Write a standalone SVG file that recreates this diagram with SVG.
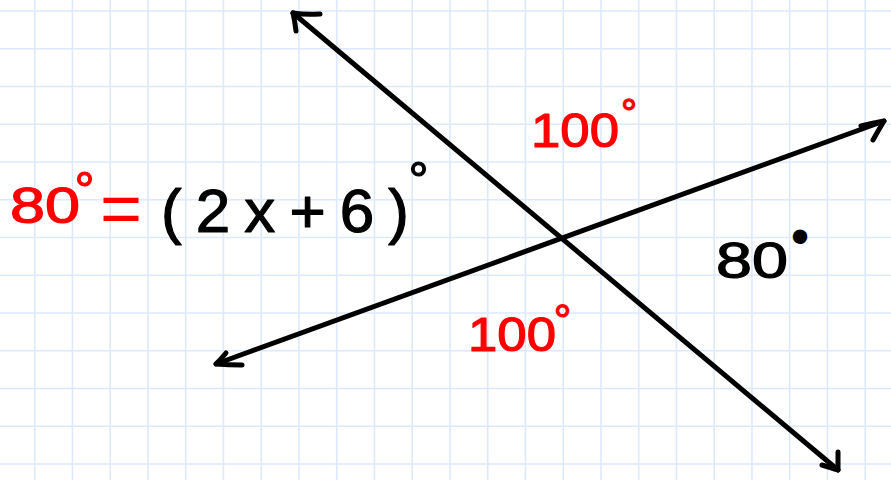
<svg xmlns="http://www.w3.org/2000/svg" width="891" height="480" viewBox="0 0 891 480">
  <style>
    .grid { stroke: #dde9fb; stroke-width: 1.6; fill: none; }
    .ln { stroke: #000; stroke-width: 5; stroke-linecap: round; stroke-linejoin: round; fill: none; }
    .lbl { font-family: "Liberation Sans", Arial, sans-serif; stroke-width: 1.2; stroke-linejoin: round; }
    .red { fill: #ff0000; stroke: #ff0000; }
    .blk { fill: #000; stroke: #000; }
  </style>
  <rect width="891" height="480" fill="#ffffff"/>
  <g id="grid" class="grid">
    <path d="M34.7 0V480M72.45 0V480M110.2 0V480M147.95 0V480M185.7 0V480M223.45 0V480M261.2 0V480M298.95 0V480M336.7 0V480M374.45 0V480M412.2 0V480M449.95 0V480M487.7 0V480M525.45 0V480M563.2 0V480M600.95 0V480M638.7 0V480M676.45 0V480M714.2 0V480M751.95 0V480M789.7 0V480M827.45 0V480M865.2 0V480"/>
    <path d="M0 11H891M0 48.75H891M0 86.5H891M0 124.25H891M0 162H891M0 199.75H891M0 237.5H891M0 275.25H891M0 313H891M0 350.75H891M0 388.5H891M0 426.25H891M0 464H891"/>
  </g>
  <g id="connectors">
    <g id="line1">
      <path class="ln" d="M293 13L838 470"/>
      <path class="ln" d="M320 14Q305 15 293 13Q295 22 296 31"/>
      <path class="ln" d="M822 465Q832 468 838 470Q838 462 838 452"/>
    </g>
    <g id="line2">
      <path class="ln" d="M216 364L884 121"/>
      <path class="ln" d="M226 353Q221 359 216 364Q229 365 242 365"/>
      <path class="ln" d="M861 126Q873 123 884 121Q878 131 873 140"/>
    </g>
  </g>
  <g id="equation">
    <text class="lbl red" x="10" y="223" font-size="50" textLength="70" lengthAdjust="spacingAndGlyphs">80</text>
    <text class="lbl red" x="74.5" y="206.5" font-size="50">°</text>
    <text class="lbl red" x="100" y="233" font-size="72" style="stroke-width:0">=</text>
    <text class="lbl blk" x="161" y="232" font-size="62" textLength="248" lengthAdjust="spacing">(2x+6)</text>
    <text class="lbl blk" x="408.5" y="196.5" font-size="50">°</text>
  </g>
  <g id="angle-top">
    <text class="lbl red" x="531" y="147" font-size="48" textLength="88" lengthAdjust="spacingAndGlyphs">100</text>
    <text class="lbl red" x="621" y="127" font-size="40">°</text>
  </g>
  <g id="angle-bottom">
    <text class="lbl red" x="468" y="351" font-size="48" textLength="88" lengthAdjust="spacingAndGlyphs">100</text>
    <text class="lbl red" x="553.7" y="335.5" font-size="44">°</text>
  </g>
  <g id="angle-right">
    <text class="lbl blk" x="716" y="278" font-size="50" textLength="72" lengthAdjust="spacingAndGlyphs">80</text>
    <text class="lbl blk" x="794" y="253" font-size="30" style="stroke-width:6">°</text>
  </g>
</svg>
